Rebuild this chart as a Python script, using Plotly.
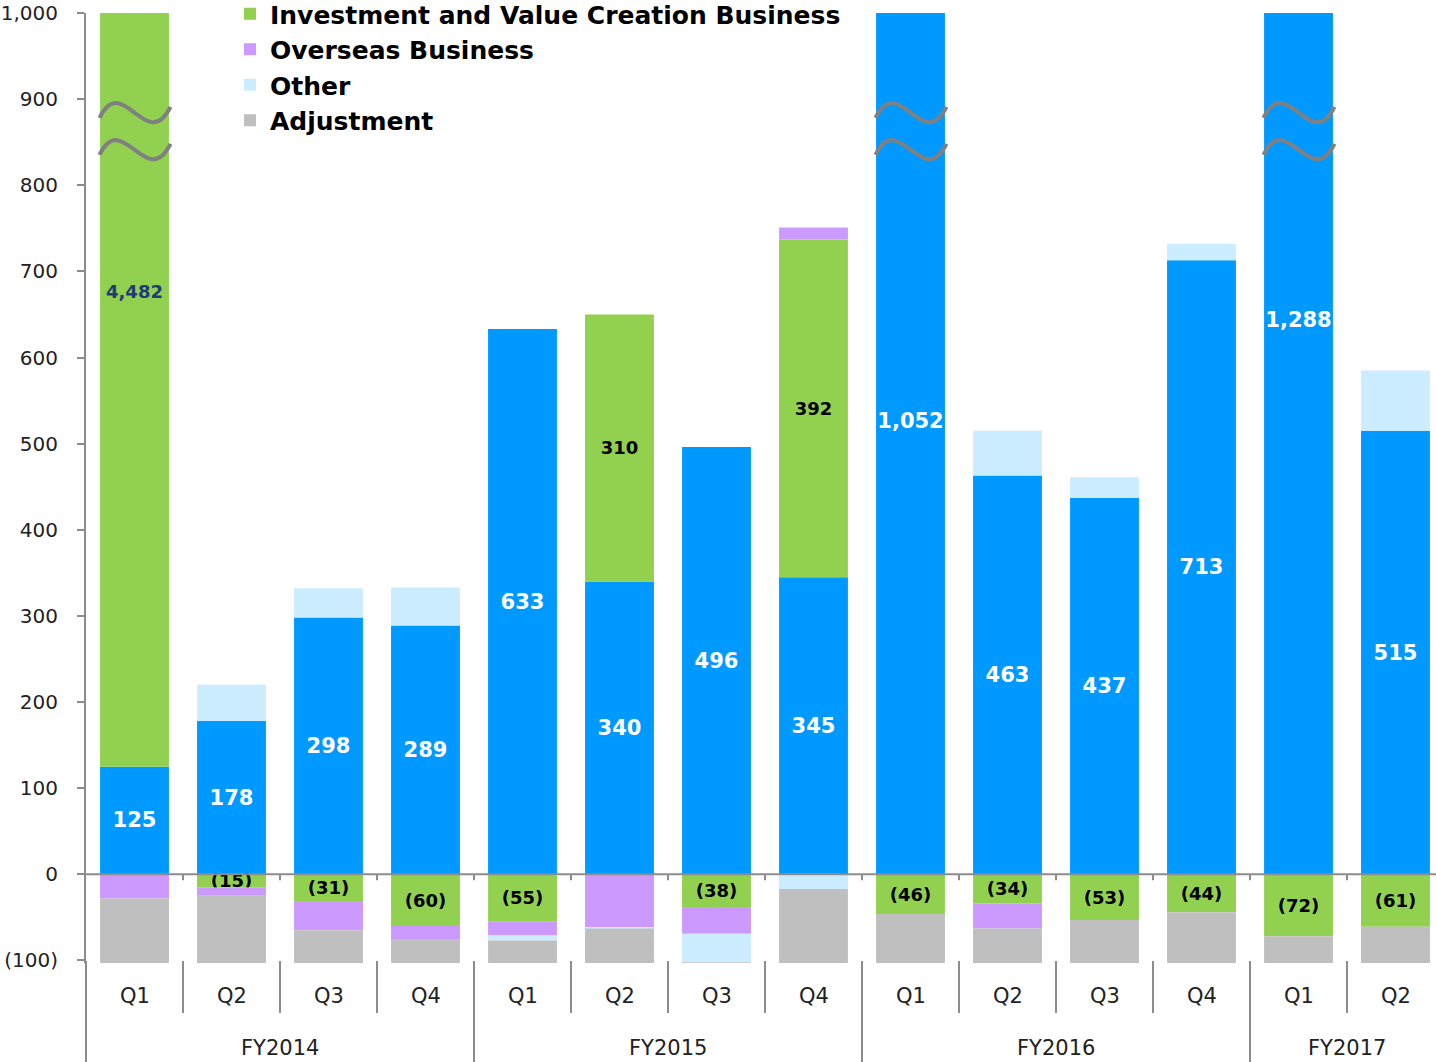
import plotly.graph_objects as go

# ---- data -------------------------------------------------------------
fiscal_years = ["FY2014", "FY2015", "FY2016", "FY2017"]
fy_index = [0, 0, 0, 0, 1, 1, 1, 1, 2, 2, 2, 2, 3, 3]
quarters = ["Q1", "Q2", "Q3", "Q4", "Q1", "Q2", "Q3", "Q4",
            "Q1", "Q2", "Q3", "Q4", "Q1", "Q2"]

internet = [125, 178, 298, 289, 633, 340, 496, 345, 1052, 463, 437, 713, 1288, 515]
investment = [4482, -15, -31, -60, -55, 310, -38, 392, -46, -34, -53, -44, -72, -61]
overseas = [-28, -10, -34, -15, -16, -62, -31, 14, 0, -29, 0, 0, 0, 0]
other = [0, 42, 34, 44, -6, -1, -33, -17, 0, 52, 24, 19, 0, 70]
adjustment = [-82, -84, -45, -36, -33, -46, -8, -92, -63, -46, -57, -64, -37, -49]

y_ticks = [-100, 0, 100, 200, 300, 400, 500, 600, 700, 800, 900, 1000]

# ---- geometry -----------------------------------------------------------
W, H = 1436, 1062
ML, MR, MT, MB = 86, 0, 13, 99
PLOT_W, PLOT_H = W - ML - MR, H - MT - MB
Y_MIN, Y_MAX = -103, 1000
CAT_PX = 97
X0 = -0.5
X1 = X0 + PLOT_W / CAT_PX
YPX = PLOT_H / (Y_MAX - Y_MIN)

FONT = "DejaVu Sans"
GRAY = "#8C8C8C"
TEXT = "#222222"

C_INTERNET = "#0099FF"
C_INVEST = "#92D050"
C_OVERSEAS = "#CC99FF"
C_OTHER = "#CCECFF"
C_ADJ = "#BFBFBF"


def paper_y(pix):
    return (H - MB - pix) / PLOT_H


def paper_x(xv):
    return (xv - X0) / (X1 - X0)


def fmt(v):
    return f"({abs(v):,})" if v < 0 else f"{v:,}"


x = list(range(len(quarters)))

# bars whose stacked height runs past the top of the axis
positive_total = [sum(max(s[i], 0) for s in (internet, investment, overseas, other, adjustment))
                  for i in x]
broken = [i for i in x if positive_total[i] > Y_MAX]

invest_clipped = [i for i in x if investment[i] > 0 and internet[i] + investment[i] > Y_MAX]
invest_text = ["" if i in invest_clipped else fmt(investment[i]) for i in x]

fig = go.Figure()

fig.add_trace(go.Bar(
    x=x, y=internet, name="Internet Business", marker=dict(color=C_INTERNET, line=dict(width=0)),
    text=[fmt(v) for v in internet], textposition="inside", insidetextanchor="middle",
    constraintext="none", textangle=0,
    textfont=dict(family=FONT, size=21, color="white", weight="bold"),
    showlegend=False,
))
fig.add_trace(go.Bar(
    x=x, y=investment, name="Investment and Value Creation Business",
    marker=dict(color=C_INVEST, line=dict(width=0)),
    text=invest_text, textposition="inside", insidetextanchor="middle",
    constraintext="none", textangle=0,
    textfont=dict(family=FONT, size=18, color="black", weight="bold"),
))
fig.add_trace(go.Bar(
    x=x, y=overseas, name="Overseas Business",
    marker=dict(color=C_OVERSEAS, line=dict(width=0)),
))
fig.add_trace(go.Bar(
    x=x, y=other, name="Other",
    marker=dict(color=C_OTHER, line=dict(width=0)),
))
fig.add_trace(go.Bar(
    x=x, y=adjustment, name="Adjustment",
    marker=dict(color=C_ADJ, line=dict(width=0)),
))

shapes = []
annotations = []

# zero line drawn on top of the bars, with short ticks between quarters
shapes.append(dict(type="line", xref="paper", yref="y", x0=0, x1=1, y0=0, y1=0,
                   line=dict(color=GRAY, width=2), layer="above"))
for i in range(len(quarters) - 1):
    b = i + 0.5
    shapes.append(dict(type="line", xref="paper", yref="y",
                       x0=paper_x(b), x1=paper_x(b), y0=0, y1=-6 / YPX,
                       line=dict(color=GRAY, width=2), layer="above"))

# category separators under the plot (longer ones between fiscal years)
for i in range(-1, len(quarters) - 1):
    b = i + 0.5
    fy_edge = i < 0 or fy_index[i] != fy_index[i + 1]
    shapes.append(dict(type="line", xref="paper", yref="paper",
                       x0=paper_x(b), x1=paper_x(b),
                       y0=paper_y(961), y1=paper_y(1062 if fy_edge else 1013),
                       line=dict(color=GRAY, width=2)))


# wavy break marks on bars cut off at the top of the axis
def wave_path(cx, cy):
    pts = [(-35, 5), (-12, -42), (12, 42), (36, -6)]
    d = [(cx + px / CAT_PX, cy - py / YPX) for px, py in pts]
    return (f"M {d[0][0]},{d[0][1]} C {d[1][0]},{d[1][1]} "
            f"{d[2][0]},{d[2][1]} {d[3][0]},{d[3][1]}")


for i in broken:
    for cy in (884, 841):
        shapes.append(dict(type="path", xref="x", yref="y", path=wave_path(i, cy),
                           line=dict(color="#808080", width=4), layer="above"))

# value of the clipped investment bar
for i in invest_clipped:
    annotations.append(dict(x=i, y=677, xref="x", yref="y", text=f"{investment[i]:,}",
                            showarrow=False,
                            font=dict(family=FONT, size=18, color="#1F3C7A", weight="bold")))

# quarter and fiscal-year labels
for i, q in enumerate(quarters):
    annotations.append(dict(x=i, y=paper_y(996), xref="x", yref="paper", text=q,
                            showarrow=False, yanchor="middle",
                            font=dict(family=FONT, size=21, color=TEXT)))
for k, fy in enumerate(fiscal_years):
    idx = [i for i in x if fy_index[i] == k]
    annotations.append(dict(x=sum(idx) / len(idx), y=paper_y(1048), xref="x", yref="paper",
                            text=fy, showarrow=False, yanchor="middle",
                            font=dict(family=FONT, size=21, color=TEXT)))

fig.update_layout(
    width=W, height=H,
    margin=dict(l=ML, r=MR, t=MT, b=MB, pad=0, autoexpand=False),
    paper_bgcolor="white", plot_bgcolor="white",
    barmode="relative", bargap=0.29,
    font=dict(family=FONT, color=TEXT),
    xaxis=dict(range=[X0, X1], showticklabels=False, showgrid=False, zeroline=False,
               showline=False, ticks="", automargin=False),
    yaxis=dict(range=[Y_MIN, Y_MAX], tickvals=y_ticks,
               ticktext=[fmt(v) for v in y_ticks],
               showgrid=False, zeroline=False, showline=True, linecolor=GRAY, linewidth=2,
               ticks="outside", ticklen=7, tickwidth=2, tickcolor=GRAY,
               ticklabelstandoff=15, automargin=False,
               tickfont=dict(family=FONT, size=20, color=TEXT)),
    legend=dict(x=(230 - ML) / PLOT_W, xanchor="left",
                y=paper_y(-9), yanchor="top",
                font=dict(family=FONT, size=25, color="black", weight="bold"),
                bgcolor="rgba(0,0,0,0)", traceorder="normal", itemwidth=30,
                tracegroupgap=0),
    shapes=shapes,
    annotations=annotations,
)

fig.write_html("out.html")
